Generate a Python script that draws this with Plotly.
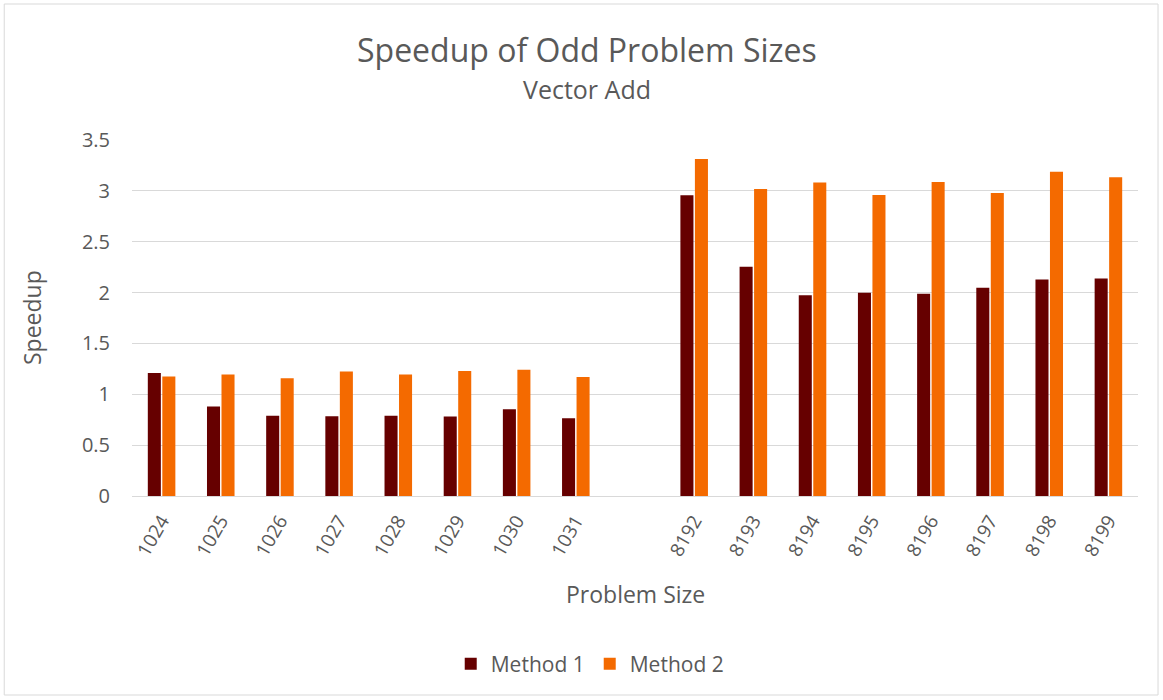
import plotly.graph_objects as go

categories = ["1024", "1025", "1026", "1027", "1028", "1029", "1030", "1031", " ",
              "8192", "8193", "8194", "8195", "8196", "8197", "8198", "8199"]
method1 = [1.21, 0.88, 0.79, 0.785, 0.788, 0.782, 0.854, 0.765, None,
           2.957, 2.254, 1.973, 1.999, 1.989, 2.048, 2.129, 2.139]
method2 = [1.174, 1.194, 1.158, 1.223, 1.194, 1.23, 1.24, 1.17, None,
           3.314, 3.019, 3.081, 2.96, 3.088, 2.98, 3.189, 3.134]
y_ticks = [0, 0.5, 1, 1.5, 2, 2.5, 3, 3.5]
y_tick_text = ["0", "0.5", "1", "1.5", "2", "2.5", "3", "3.5"]

FONT = "Open Sans"
GRAY = "#595959"

fig = go.Figure()
fig.add_trace(go.Bar(x=categories, y=method1, name="Method 1", marker_color="#660000",
                     marker_line_width=0))
fig.add_trace(go.Bar(x=categories, y=method2, name="Method 2", marker_color="#F46A00",
                     marker_line_width=0))

fig.update_layout(
    width=1163, height=700,
    margin=dict(l=132, r=25, t=140, b=204),
    paper_bgcolor="white", plot_bgcolor="white",
    barmode="group", bargap=0.51, bargroupgap=0.1,
    font=dict(family=FONT, color=GRAY),
    showlegend=True,
    legend=dict(orientation="h", x=0.455, xanchor="center", y=-0.472, yanchor="middle",
                font=dict(size=21, color=GRAY, family=FONT), itemwidth=30),
    xaxis=dict(type="category", categoryorder="array", categoryarray=categories,
               tickangle=-60, tickfont=dict(size=19, color=GRAY, family=FONT),
               ticklabelstandoff=9,
               showgrid=False, showline=False, ticks=""),
    yaxis=dict(range=[0, 3.5], tickvals=y_ticks, ticktext=y_tick_text,
               tickfont=dict(size=20, color=GRAY, family=FONT),
               ticklabelstandoff=21,
               showgrid=True, gridcolor="#d9d9d9", gridwidth=1.3,
               zeroline=True, zerolinecolor="#d9d9d9", zerolinewidth=1.3,
               showline=False, ticks="", ticklen=0),
    annotations=[
        dict(text="Speedup of Odd Problem Sizes", x=0.452, y=1.253, xref="paper", yref="paper",
             showarrow=False, xanchor="center", yanchor="middle", font=dict(size=32, color=GRAY, family=FONT)),
        dict(text="Vector Add", x=0.452, y=1.143, xref="paper", yref="paper",
             showarrow=False, xanchor="center", yanchor="middle", font=dict(size=25, color=GRAY, family=FONT)),
        dict(text="Problem Size", x=0.5, y=-0.275, xref="paper", yref="paper",
             showarrow=False, xanchor="center", yanchor="middle", font=dict(size=23, color=GRAY, family=FONT)),
        dict(text="Speedup", x=-0.0994, y=0.5, xref="paper", yref="paper", textangle=-90,
             showarrow=False, xanchor="center", yanchor="middle", font=dict(size=23, color=GRAY, family=FONT)),
    ],
    shapes=[dict(type="rect", xref="paper", yref="paper", x0=-0.127, x1=1.0199, y0=-0.559, y1=1.382,
                 line=dict(color="#d9d9d9", width=1), fillcolor="rgba(0,0,0,0)", layer="below")],
)

fig.write_html("out.html", config={"displayModeBar": False},
               post_script="document.body.style.margin='0px';document.body.style.overflow='hidden';")
